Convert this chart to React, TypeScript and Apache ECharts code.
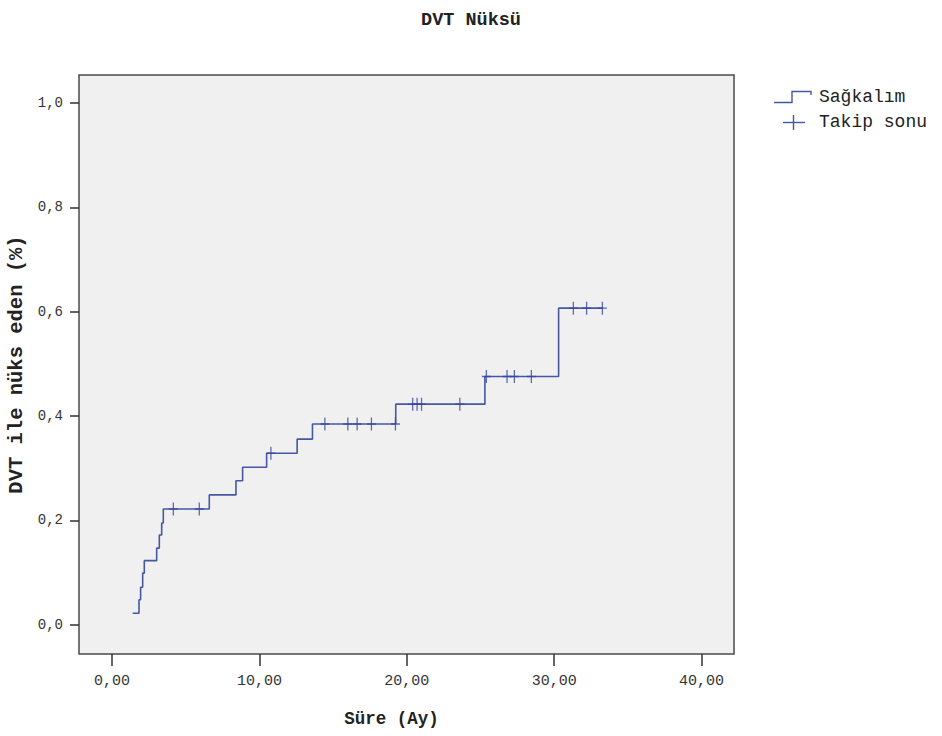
import React, { useEffect, useRef } from "react";
import * as echarts from "echarts";

// Kaplan-Meier step points (time in months, cumulative recurrence)
const eventTimes = [1.40, 1.83, 1.94, 2.08, 2.19, 3.03, 3.21, 3.37, 3.48, 6.6, 8.41, 8.86, 10.49, 12.56, 13.6, 19.25, 25.3, 30.3, 33.3];
const eventValues = [0.022, 0.048, 0.072, 0.099, 0.123, 0.147, 0.172, 0.195, 0.222, 0.249, 0.276, 0.302, 0.329, 0.356, 0.385, 0.423, 0.476, 0.607, 0.607];

// Censored observations (Takip sonu)
const censorTimes = [4.16, 5.92, 10.78, 14.44, 16.0, 16.63, 17.6, 19.23, 20.4, 20.7, 21.0, 23.6, 25.4, 26.8, 27.3, 28.45, 31.3, 32.2, 33.27];
const censorValues = [0.222, 0.222, 0.329, 0.385, 0.385, 0.385, 0.385, 0.385, 0.423, 0.423, 0.423, 0.423, 0.476, 0.476, 0.476, 0.476, 0.607, 0.607, 0.607];

const xTicks = [0, 10, 20, 30, 40];
const yTicks = [0, 0.2, 0.4, 0.6, 0.8, 1.0];

const titleText = "DVT Nüksü";
const xAxisTitle = "Süre (Ay)";
const yAxisTitle = "DVT ile nüks eden (%)";
const legendNames = ["Sağkalım", "Takip sonu"];

const FONT = "'Liberation Mono', 'DejaVu Sans Mono', monospace";
const LINE_COLOR = "#4657a3";
const CENSOR_COLOR = "#3444a0";

export default function App() {
  const ref = useRef<HTMLDivElement>(null);
  useEffect(() => {
    if (!ref.current) return;
    const chart = echarts.init(ref.current, undefined, { renderer: "svg" });
    const stepData = eventTimes.map((t, i) => [t, eventValues[i]]);
    const censorData = censorTimes.map((t, i) => [t, censorValues[i]]);
    chart.setOption({
      animation: false,
      backgroundColor: "#ffffff",
      title: {
        text: titleText,
        left: "center",
        top: 6,
        textStyle: { fontFamily: FONT, fontSize: 18.5, fontWeight: "bold", color: "#222" },
      },
      grid: {
        left: 79,
        top: 75,
        width: 655,
        height: 579,
        outerBoundsMode: "none",
        containLabel: false,
        show: true,
        backgroundColor: "#f0f0f0",
        borderColor: "#4a4a4a",
        borderWidth: 1.5,
      },
      xAxis: {
        type: "value",
        min: -2.24,
        max: 42.2,
        name: xAxisTitle,
        nameLocation: "middle",
        nameGap: 56,
        nameTextStyle: { fontFamily: FONT, fontSize: 17.5, fontWeight: "bold", color: "#222", padding: [0, 30, 0, 0] },
        axisLine: { show: false, onZero: false },
        axisTick: { show: true, length: 12, customValues: xTicks, lineStyle: { color: "#333", width: 1.5 } },
        axisLabel: {
          customValues: xTicks,
          margin: 20,
          fontFamily: FONT,
          fontSize: 15,
          color: "#333",
          formatter: (v: number) => v.toFixed(2).replace(".", ","),
        },
        splitLine: { show: false },
      },
      yAxis: {
        type: "value",
        min: -0.056,
        max: 1.054,
        name: yAxisTitle,
        nameLocation: "middle",
        nameGap: 48,
        nameTextStyle: { fontFamily: FONT, fontSize: 20.5, fontWeight: "bold", color: "#222" },
        axisLine: { show: false, onZero: false },
        axisTick: { show: true, length: 9, customValues: yTicks, lineStyle: { color: "#333", width: 1.5 } },
        axisLabel: {
          customValues: yTicks,
          margin: 16,
          fontFamily: FONT,
          fontSize: 14,
          color: "#333",
          formatter: (v: number) => v.toFixed(1).replace(".", ","),
        },
        splitLine: { show: false },
      },
      series: [
        {
          name: legendNames[0],
          type: "line",
          step: "end",
          data: stepData,
          symbol: "none",
          lineStyle: { color: LINE_COLOR, width: 1.6 },
          z: 2,
        },
        {
          name: legendNames[1],
          type: "scatter",
          data: censorData,
          symbol: "path://M4.3,0h1.4v13h-1.4z M0,5.8h10v1.4h-10z",
          symbolSize: [9, 13],
          itemStyle: { color: CENSOR_COLOR },
          z: 3,
        },
      ],
      graphic: [
        {
          type: "polyline",
          shape: { points: [[774, 102.5], [792, 102.5], [792, 91.5], [811, 91.5], [811, 95]] },
          style: { stroke: LINE_COLOR, lineWidth: 1.4, fill: null },
        },
        {
          type: "text",
          left: 819,
          top: 88,
          style: { text: legendNames[0], fontFamily: FONT, fontSize: 18, fill: "#222" },
        },
        {
          type: "line",
          shape: { x1: 783, y1: 122.5, x2: 805, y2: 122.5 },
          style: { stroke: LINE_COLOR, lineWidth: 1.4 },
        },
        {
          type: "line",
          shape: { x1: 793.5, y1: 115, x2: 793.5, y2: 130 },
          style: { stroke: LINE_COLOR, lineWidth: 1.4 },
        },
        {
          type: "text",
          left: 819,
          top: 113,
          style: { text: legendNames[1], fontFamily: FONT, fontSize: 18, fill: "#222" },
        },
      ],
    });
    return () => chart.dispose();
  }, []);
  return (
    <div
      ref={ref}
      style={{ position: "fixed", left: 0, top: 0, width: 942, height: 736 }}
    />
  );
}
